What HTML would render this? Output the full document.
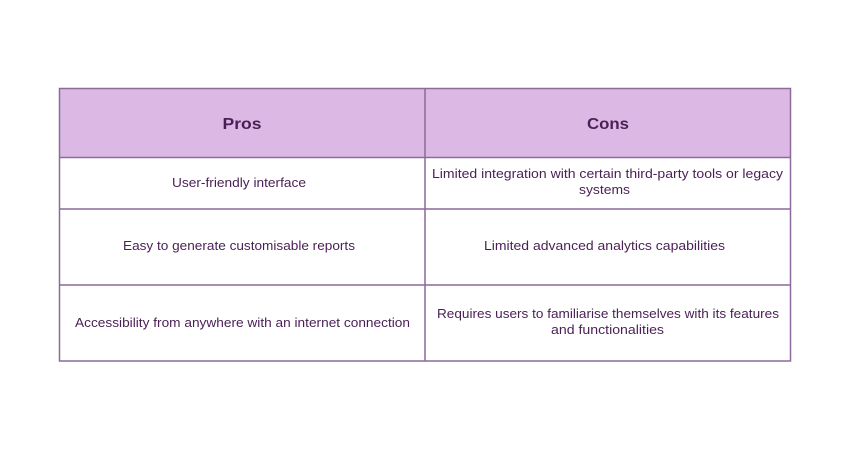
<!DOCTYPE html>
<html><head><meta charset="utf-8"><style>
html,body{margin:0;padding:0;background:#fff;width:850px;height:450px;overflow:hidden}
svg{display:block}
text{font-family:"Liberation Sans",sans-serif;fill:#4a1f55}
</style></head><body>
<svg width="850" height="450" viewBox="0 0 850 450">
<rect x="0" y="0" width="850" height="450" fill="#fff"/>
<rect x="59.5" y="88.5" width="731" height="69" fill="#dcb9e5"/>
<g stroke="#8c6a99" stroke-width="1.5" fill="none">
<rect x="59.5" y="88.5" width="731" height="272.5"/>
<line x1="425" y1="88.5" x2="425" y2="361"/>
<line x1="59.5" y1="157.5" x2="790.5" y2="157.5"/>
<line x1="59.5" y1="209" x2="790.5" y2="209"/>
<line x1="59.5" y1="285" x2="790.5" y2="285"/>
</g>
<g text-anchor="middle" lengthAdjust="spacingAndGlyphs">
<text x="242" y="129" font-size="16" font-weight="bold" textLength="39" lengthAdjust="spacingAndGlyphs">Pros</text>
<text x="608" y="129" font-size="16" font-weight="bold" textLength="42" lengthAdjust="spacingAndGlyphs">Cons</text>
<g font-size="13">
<text x="239" y="187" textLength="134" lengthAdjust="spacingAndGlyphs">User-friendly interface</text>
<text x="607.5" y="178" textLength="351" lengthAdjust="spacingAndGlyphs">Limited integration with certain third-party tools or legacy</text>
<text x="604.5" y="194" textLength="51" lengthAdjust="spacingAndGlyphs">systems</text>
<text x="239" y="250" textLength="232" lengthAdjust="spacingAndGlyphs">Easy to generate customisable reports</text>
<text x="604.5" y="250" textLength="241" lengthAdjust="spacingAndGlyphs">Limited advanced analytics capabilities</text>
<text x="242.5" y="327" textLength="335" lengthAdjust="spacingAndGlyphs">Accessibility from anywhere with an internet connection</text>
<text x="608" y="318" textLength="342" lengthAdjust="spacingAndGlyphs">Requires users to familiarise themselves with its features</text>
<text x="607.5" y="334" textLength="113" lengthAdjust="spacingAndGlyphs">and functionalities</text>
</g>
</g>
</svg>
</body></html>
